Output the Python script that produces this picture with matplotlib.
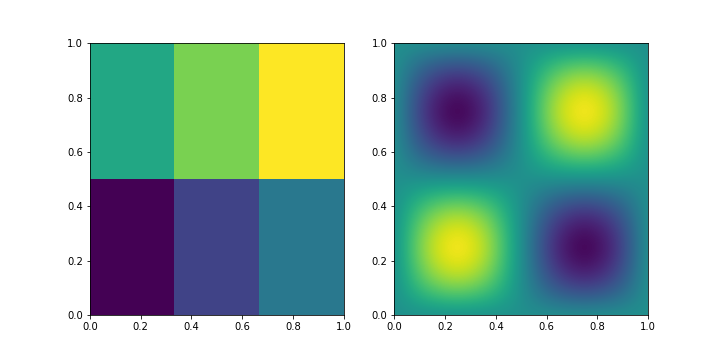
import numpy as np
import matplotlib
matplotlib.use('Agg')
import matplotlib.pyplot as plt

# ---------------------------------------------------
# DATA
# ---------------------------------------------------
# left panel: 2 x 3 block values (bottom row first)
block_values = [[0, 1, 2],
                [3, 4, 5]]

# right panel: profile sampled every 1/16 along each axis
profile = [0.0, 0.38, 0.71, 0.92, 1.0, 0.92, 0.71, 0.38, 0.0,
           -0.38, -0.71, -0.92, -1.0, -0.92, -0.71, -0.38, 0.0]
field = np.outer(profile, profile)

# ---------------------------------------------------
# FIGURE
# ---------------------------------------------------
fig, (ax1, ax2) = plt.subplots(1, 2, figsize=(10, 5), dpi=72)
fig.subplots_adjust(left=0.125, right=0.9, top=0.88, bottom=0.125, wspace=0.2)

ax1.imshow(np.array(block_values), cmap='viridis', origin='lower',
           extent=[0, 1, 0, 1], aspect='auto', interpolation='nearest')

half = 0.5 / (len(profile) - 1)
ax2.imshow(field, cmap='viridis', origin='lower',
           extent=[-half, 1 + half, -half, 1 + half],
           aspect='auto', interpolation='bicubic')

for ax in (ax1, ax2):
    ax.set_xlim(0, 1)
    ax.set_ylim(0, 1)
    ax.set_xticks([0, 0.2, 0.4, 0.6, 0.8, 1.0])
    ax.set_yticks([0, 0.2, 0.4, 0.6, 0.8, 1.0])

fig.savefig('out.png', dpi=72)
